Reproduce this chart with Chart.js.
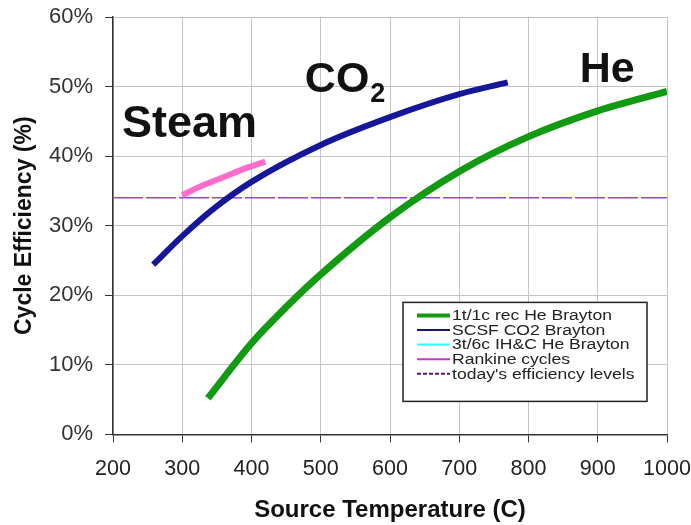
<!DOCTYPE html>
<html>
<head>
<meta charset="utf-8">
<script src="https://cdn.jsdelivr.net/npm/chart.js@4"></script>
<style>
  html, body { margin: 0; padding: 0; background: #fff; }
</style>
</head>
<body>
<canvas id="chart" width="691" height="525"></canvas>
<script>
// 1t/1c recuperated He Brayton
const heTemp = [337, 400, 450, 500, 600, 700, 800, 900, 1000];
const heEff = [5.2, 13.1, 18.3, 23.0, 31.2, 37.8, 42.8, 46.5, 49.3];

// SCSF CO2 Brayton
const co2Temp = [258, 300, 350, 400, 500, 600, 700, 770];
const co2Eff = [24.4, 28.5, 32.8, 36.3, 41.6, 45.6, 48.9, 50.6];

// Rankine (steam)
const steamTemp = [300, 330, 360, 390, 420];
const steamEff = [34.4, 35.8, 37.0, 38.2, 39.2];

// today's efficiency level
const todayTemp = [200, 1000];
const todayEff = [34, 34];

const legendLabels = [
    "1t/1c rec He Brayton",
    "SCSF CO2 Brayton",
    "3t/6c IH&C He Brayton",
    "Rankine cycles",
    "today's efficiency levels",
];

// big text labels on the plot, in data units (left edge / baseline)
const bigLabels = [
    { text: "Steam", x: 213, y: 42.8, size: 45 },
    { text: "CO", sub: "2", x: 477, y: 49.2, size: 43 },
    { text: "He", x: 874, y: 50.6, size: 43 },
];

const xTicks = [200, 300, 400, 500, 600, 700, 800, 900, 1000];

function pts(xs, ys) {
    return xs.map((x, i) => ({ x: x, y: ys[i] }));
}

const FONT = '"Liberation Sans", Arial, sans-serif';

const overlay = {
    id: "overlay",
    afterDatasetsDraw(chart) {
        const { ctx, scales } = chart;
        ctx.save();
        ctx.fillStyle = "#111";
        ctx.textBaseline = "alphabetic";
        ctx.textAlign = "left";
        bigLabels.forEach((l) => {
            const px = scales.x.getPixelForValue(l.x);
            const py = scales.y.getPixelForValue(l.y);
            ctx.font = "bold " + l.size + "px " + FONT;
            ctx.fillText(l.text, px, py);
            if (l.sub) {
                const w = ctx.measureText(l.text).width;
                ctx.font = "bold 27px " + FONT;
                ctx.fillText(l.sub, px + w + 1, py + 10);
            }
        });
        ctx.restore();
    },
    afterDraw(chart) {
        // legend box inside the plot, lower right
        const { ctx, chartArea } = chart;
        const left = chartArea.right - 264;
        const top = chartArea.bottom - 132;
        const w = 244, h = 99;
        ctx.save();
        ctx.fillStyle = "#fff";
        ctx.fillRect(left, top, w, h);
        ctx.strokeStyle = "#222";
        ctx.lineWidth = 1.5;
        ctx.strokeRect(left, top, w, h);

        ctx.font = "14px " + FONT;
        ctx.textBaseline = "middle";
        const sx = 160 / ctx.measureText(legendLabels[0]).width;
        chart.data.datasets.forEach((ds, i) => {
            const ry = top + 13 + i * 14.6;
            ctx.beginPath();
            ctx.strokeStyle = ds.legendColor;
            ctx.lineWidth = i === 0 ? 4 : 2;
            ctx.setLineDash(i === 4 ? [4, 2] : []);
            ctx.moveTo(left + 14, ry);
            ctx.lineTo(left + 47, ry);
            ctx.stroke();
            ctx.setLineDash([]);
            ctx.save();
            ctx.translate(left + 49, ry);
            ctx.scale(sx, 1);
            ctx.fillStyle = "#222";
            ctx.fillText(ds.label, 0, 1);
            ctx.restore();
        });
        ctx.restore();
    },
};

new Chart("chart", {
    type: "line",
    data: {
        datasets: [
            {
                label: legendLabels[0],
                data: pts(heTemp, heEff),
                borderColor: "#139a13",
                legendColor: "#139a13",
                borderWidth: 7,
                pointRadius: 0,
                cubicInterpolationMode: "monotone",
                borderCapStyle: "butt",
            },
            {
                label: legendLabels[1],
                data: pts(co2Temp, co2Eff),
                borderColor: "#16169a",
                legendColor: "#16166e",
                borderWidth: 6,
                pointRadius: 0,
                cubicInterpolationMode: "monotone",
            },
            {
                label: legendLabels[2],
                data: [],
                borderColor: "#33ffff",
                legendColor: "#33ffff",
                borderWidth: 2,
                pointRadius: 0,
            },
            {
                label: legendLabels[3],
                data: pts(steamTemp, steamEff),
                borderColor: "#ff6ccc",
                legendColor: "#cc33cc",
                borderWidth: 6,
                pointRadius: 0,
                cubicInterpolationMode: "monotone",
            },
            {
                label: legendLabels[4],
                data: pts(todayTemp, todayEff),
                borderColor: "#9a3cff",
                legendColor: "#6a106a",
                borderWidth: 1.5,
                borderDash: [30, 3],
                pointRadius: 0,
            },
        ],
    },
    options: {
        responsive: false,
        animation: false,
        layout: { padding: { left: 6, right: 0, top: 0, bottom: 0 } },
        plugins: {
            legend: { display: false },
            tooltip: { enabled: false },
        },
        scales: {
            x: {
                type: "linear",
                min: 200,
                max: 1000,
                afterBuildTicks: (axis) => {
                    axis.ticks = xTicks.map((v) => ({ value: v }));
                },
                afterFit: (axis) => {
                    // only half of the "1000" label hangs past the plot
                    axis.paddingRight = 24;
                    axis.paddingLeft = 0;
                },
                ticks: {
                    callback: (v) => String(v),
                    font: { size: 21.5, family: FONT },
                    color: "#222",
                    padding: 14,
                },
                grid: { color: "#c4c4c4", tickColor: "#333", tickLength: 8 },
                border: { color: "#333", width: 1.5 },
                title: {
                    display: true,
                    text: "Source Temperature (C)",
                    font: { size: 24, weight: "bold", family: FONT },
                    color: "#111",
                    padding: { top: 0, bottom: 0 },
                },
            },
            y: {
                min: 0,
                max: 60,
                afterFit: (axis) => {
                    axis.width = 107;
                    axis.paddingTop = 17;
                    axis.paddingBottom = 0;
                },
                ticks: {
                    stepSize: 10,
                    callback: (v) => v + "%",
                    font: { size: 22, family: FONT },
                    color: "#333",
                    padding: 12,
                },
                grid: { color: "#c4c4c4", tickColor: "#333", tickLength: 8 },
                border: { color: "#333", width: 1.5 },
                title: {
                    display: true,
                    text: "Cycle Efficiency (%)",
                    font: { size: 23, weight: "bold", family: FONT },
                    color: "#111",
                    padding: { top: 5, bottom: 0 },
                },
            },
        },
    },
    plugins: [overlay],
});
</script>
</body>
</html>
